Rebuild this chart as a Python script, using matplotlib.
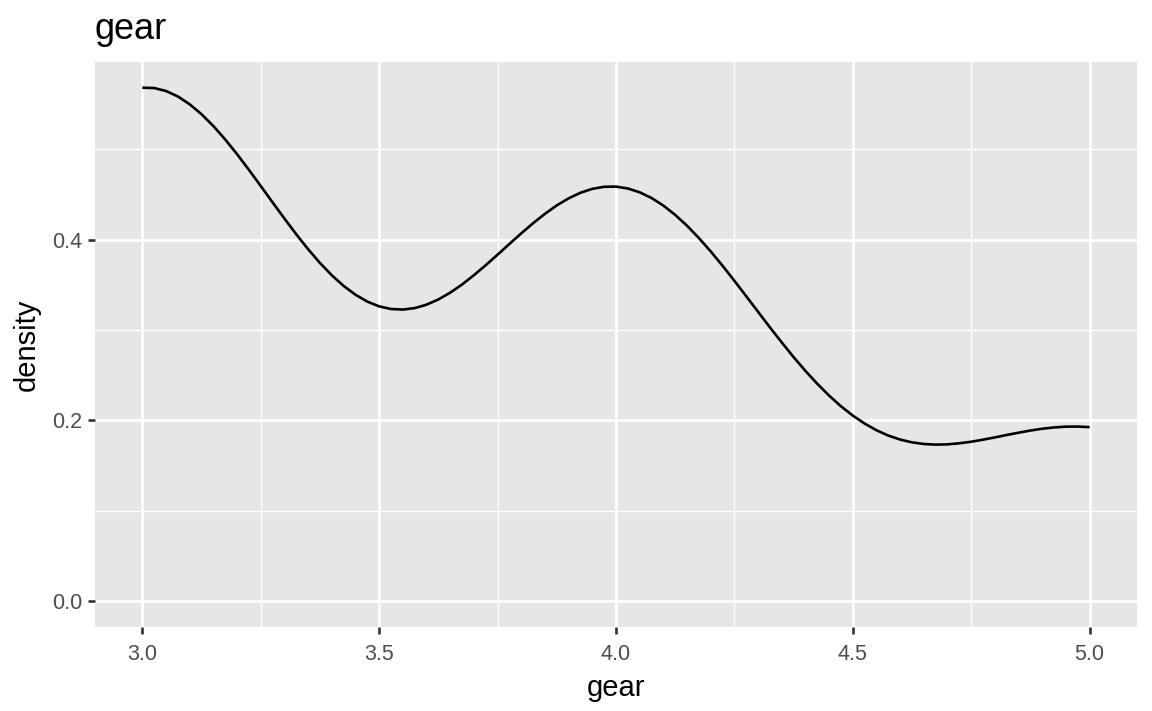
import numpy as np
import matplotlib
matplotlib.use("Agg")
import matplotlib.pyplot as plt

# density curve of gear at steps of 0.025
gear_x = [3.000, 3.025, 3.050, 3.075, 3.100, 3.125, 3.150, 3.175, 3.200, 3.225,
          3.250, 3.275, 3.300, 3.325, 3.350, 3.375, 3.400, 3.425, 3.450, 3.475,
          3.500, 3.525, 3.550, 3.575, 3.600, 3.625, 3.650, 3.675, 3.700, 3.725,
          3.750, 3.775, 3.800, 3.825, 3.850, 3.875, 3.900, 3.925, 3.950, 3.975,
          4.000, 4.025, 4.050, 4.075, 4.100, 4.125, 4.150, 4.175, 4.200, 4.225,
          4.250, 4.275, 4.300, 4.325, 4.350, 4.375, 4.400, 4.425, 4.450, 4.475,
          4.500, 4.525, 4.550, 4.575, 4.600, 4.625, 4.650, 4.675, 4.700, 4.725,
          4.750, 4.775, 4.800, 4.825, 4.850, 4.875, 4.900, 4.925, 4.950, 4.975,
          5.000]
density = [0.5681, 0.5677, 0.5644, 0.5584, 0.5497, 0.5387, 0.5256, 0.5108, 0.4945, 0.4772,
           0.4593, 0.4412, 0.4233, 0.4059, 0.3894, 0.3742, 0.3606, 0.3488, 0.3391, 0.3315,
           0.3262, 0.3233, 0.3227, 0.3243, 0.3281, 0.3339, 0.3414, 0.3504, 0.3607, 0.3718,
           0.3834, 0.3953, 0.4070, 0.4182, 0.4286, 0.4379, 0.4457, 0.4519, 0.4562, 0.4585,
           0.4587, 0.4566, 0.4524, 0.4461, 0.4377, 0.4274, 0.4154, 0.4018, 0.3870, 0.3711,
           0.3545, 0.3374, 0.3202, 0.3030, 0.2863, 0.2701, 0.2548, 0.2406, 0.2275, 0.2157,
           0.2054, 0.1966, 0.1892, 0.1833, 0.1789, 0.1758, 0.1740, 0.1733, 0.1736, 0.1748,
           0.1765, 0.1788, 0.1813, 0.1840, 0.1865, 0.1889, 0.1909, 0.1923, 0.1932, 0.1933,
           0.1926]

x_ticks = [3.0, 3.5, 4.0, 4.5, 5.0]
x_minor = [3.25, 3.75, 4.25, 4.75]
y_ticks = [0.0, 0.2, 0.4]
y_minor = [0.1, 0.3, 0.5]

plt.rcParams['font.family'] = ['Liberation Sans', 'DejaVu Sans']

fig = plt.figure(figsize=(11.52, 7.11), dpi=100)
ax = fig.add_axes([95 / 1152, 84 / 711, 1042 / 1152, 565 / 711])
ax.set_facecolor('#E6E6E6')

ax.plot(gear_x, density, color='black', lw=1.9, solid_capstyle='butt', zorder=3)

xmin, xmax = min(gear_x), max(gear_x)
ymax = max(density)
ax.set_xlim(xmin - 0.05 * (xmax - xmin), xmax + 0.05 * (xmax - xmin))
ax.set_ylim(-0.05 * ymax, ymax * 1.05)

ax.set_xticks(x_ticks)
ax.set_xticklabels([f'{v:.1f}' for v in x_ticks])
ax.set_yticks(y_ticks)
ax.set_yticklabels([f'{v:.1f}' for v in y_ticks])
ax.set_xticks(x_minor, minor=True)
ax.set_yticks(y_minor, minor=True)

ax.grid(which='major', color='white', lw=1.9)
ax.grid(which='minor', color='white', lw=0.95)
ax.set_axisbelow(True)
for s in ax.spines.values():
    s.set_visible(False)

ax.tick_params(which='major', length=5, width=1.9, color='#333333',
               labelsize=15.5, labelcolor='#4D4D4D')
ax.tick_params(axis='x', which='major', pad=7)
ax.tick_params(axis='y', which='major', pad=4)
ax.tick_params(which='minor', length=0)

ax.set_xlabel('gear', fontsize=21, labelpad=7)
ax.set_ylabel('density', fontsize=21, labelpad=8)
fig.text(95 / 1152, 1 - 39 / 711, 'gear', fontsize=26, ha='left', va='baseline')

fig.savefig('out.png', dpi=100)
